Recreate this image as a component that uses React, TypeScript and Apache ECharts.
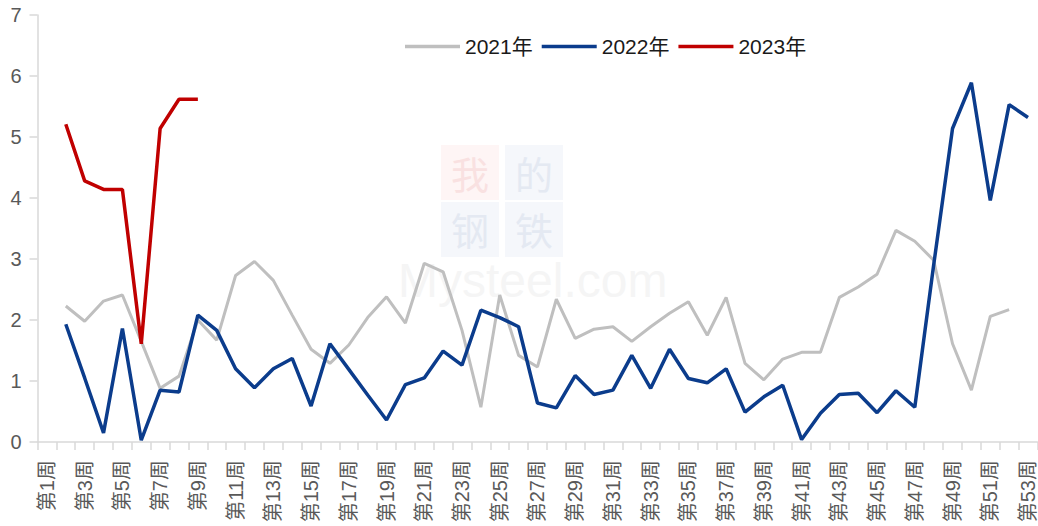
import React, { useEffect, useRef } from "react";
import * as echarts from "echarts";

const weeks = [
  "第1周", "第2周", "第3周", "第4周", "第5周", "第6周", "第7周", "第8周", "第9周", "第10周",
  "第11周", "第12周", "第13周", "第14周", "第15周", "第16周", "第17周", "第18周", "第19周", "第20周",
  "第21周", "第22周", "第23周", "第24周", "第25周", "第26周", "第27周", "第28周", "第29周", "第30周",
  "第31周", "第32周", "第33周", "第34周", "第35周", "第36周", "第37周", "第38周", "第39周", "第40周",
  "第41周", "第42周", "第43周", "第44周", "第45周", "第46周", "第47周", "第48周", "第49周", "第50周",
  "第51周", "第52周", "第53周",
];

const y2021 = [
  null, 2.23, 1.98, 2.31, 2.41, 1.65, 0.88, 1.08, 2.0, 1.67,
  2.73, 2.96, 2.65, 2.08, 1.52, 1.29, 1.59, 2.04, 2.38, 1.95,
  2.93, 2.79, 1.83, 0.57, 2.41, 1.42, 1.23, 2.34, 1.7, 1.85,
  1.89, 1.65, 1.89, 2.11, 2.3, 1.75, 2.37, 1.29, 1.02, 1.36,
  1.47, 1.47, 2.37, 2.54, 2.75, 3.47, 3.29, 2.98, 1.61, 0.85,
  2.06, 2.17, null,
];

const y2022 = [
  null, 1.93, 1.05, 0.15, 1.86, 0.03, 0.85, 0.82, 2.08, 1.83,
  1.2, 0.89, 1.2, 1.37, 0.59, 1.61, 1.19, 0.77, 0.36, 0.94,
  1.05, 1.49, 1.26, 2.16, 2.04, 1.89, 0.64, 0.56, 1.09, 0.78,
  0.85, 1.42, 0.88, 1.52, 1.04, 0.97, 1.2, 0.49, 0.74, 0.93,
  0.04, 0.47, 0.78, 0.8, 0.48, 0.84, 0.57, 2.9, 5.14, 5.89,
  3.96, 5.53, 5.32,
];

const y2023 = [null, 5.21, 4.28, 4.14, 4.14, 1.61, 5.14, 5.62, 5.62];

const seriesNames = ["2021年", "2022年", "2023年"];
const seriesColors = ["#BFBFBF", "#0B3C8C", "#C00000"];

const FONT = "'Liberation Sans', Arial, 'Noto Sans CJK SC', sans-serif";

export default function App() {
  const ref = useRef<HTMLDivElement>(null);
  useEffect(() => {
    if (!ref.current) return;
    const chart = echarts.init(ref.current, null, { renderer: "svg" });
    const wmSq = (x: number, y: number, bg: string) => ({
      type: "rect",
      shape: { x, y, width: 58, height: 55 },
      style: { fill: bg },
      silent: true,
    });
    const wmTx = (x: number, y: number, t: string, c: string) => ({
      type: "text",
      x,
      y,
      style: {
        text: t,
        fill: c,
        font: "38px 'Noto Sans CJK SC'",
        lineHeight: 38,
        align: "center",
        verticalAlign: "middle",
      },
      silent: true,
    });
    chart.setOption({
      animation: false,
      textStyle: { fontFamily: FONT },
      graphic: [
        wmSq(441, 145, "#FEF5F5"),
        wmSq(505, 145, "#F5F7FB"),
        wmSq(441, 202, "#F5F7FB"),
        wmSq(505, 202, "#F5F7FB"),
        wmTx(470, 172, "我", "#F9E1E1"),
        wmTx(534, 172, "的", "#E4E9F2"),
        wmTx(470, 228, "钢", "#E4E9F2"),
        wmTx(534, 228, "铁", "#E4E9F2"),
        {
          type: "text",
          x: 398,
          y: 256,
          style: {
            text: "Mysteel.com",
            fill: "#F5F5F5",
            font: "48px 'Liberation Sans', Arial, sans-serif",
            verticalAlign: "top",
          },
          silent: true,
        },
      ],
      legend: {
        data: seriesNames,
        left: 400,
        top: 31,
        icon: "rect",
        itemWidth: 55,
        itemHeight: 3.5,
        itemGap: 9,
        textStyle: { fontSize: 21, color: "#1A1A1A", fontFamily: FONT },
      },
      grid: { left: 37.5, right: 0.5, top: 15, bottom: 84, containLabel: false },
      xAxis: {
        type: "category",
        data: weeks,
        boundaryGap: true,
        axisLine: { show: true, lineStyle: { color: "#D9D9D9", width: 1.5 } },
        axisTick: { show: true, interval: 0, length: 8, lineStyle: { color: "#D9D9D9", width: 1.5 } },
        axisLabel: {
          interval: 1,
          rotate: 90,
          fontSize: 20,
          color: "#595959",
          margin: 18,
          fontFamily: FONT,
        },
        splitLine: { show: false },
      },
      yAxis: {
        type: "value",
        min: 0,
        max: 7,
        interval: 1,
        axisLine: { show: true, lineStyle: { color: "#D9D9D9", width: 1.5 } },
        axisTick: { show: true, length: 8, lineStyle: { color: "#D9D9D9", width: 1.5 } },
        axisLabel: { fontSize: 20, color: "#595959", margin: 16, fontFamily: FONT },
        splitLine: { show: false },
      },
      series: [
        {
          name: seriesNames[0],
          type: "line",
          data: y2021,
          symbol: "none",
          lineStyle: { color: seriesColors[0], width: 3 },
          itemStyle: { color: seriesColors[0] },
          z: 2,
        },
        {
          name: seriesNames[1],
          type: "line",
          data: y2022,
          symbol: "none",
          lineStyle: { color: seriesColors[1], width: 3.5 },
          itemStyle: { color: seriesColors[1] },
          z: 3,
        },
        {
          name: seriesNames[2],
          type: "line",
          data: y2023,
          symbol: "none",
          lineStyle: { color: seriesColors[2], width: 3.5 },
          itemStyle: { color: seriesColors[2] },
          z: 4,
        },
      ],
    });
    return () => chart.dispose();
  }, []);
  return (
    <div
      ref={ref}
      style={{ position: "fixed", left: 0, top: 0, width: 1038, height: 526, background: "#fff" }}
    />
  );
}
